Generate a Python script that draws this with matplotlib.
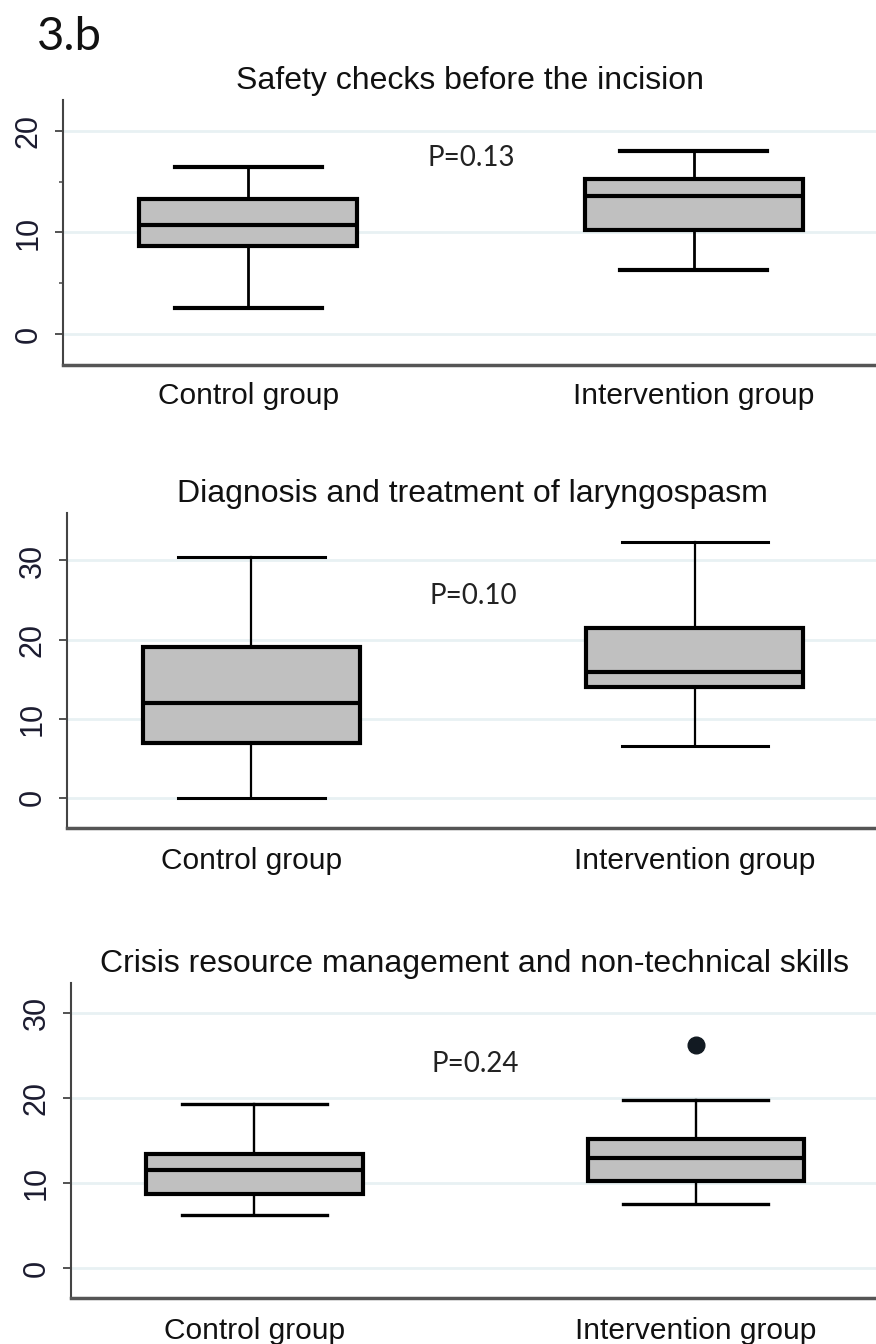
import matplotlib
matplotlib.use("Agg")
import matplotlib.pyplot as plt

# valores (control, intervencion)
groups = ["Control group", "Intervention group"]
titles = [
    "Safety checks before the incision",
    "Diagnosis and treatment of laryngospasm",
    "Crisis resource management and non-technical skills",
]
p_labels = ["P=0.13", "P=0.10", "P=0.24"]

# panel 1
safety_low = [2.6, 6.3]
safety_q1 = [8.7, 10.25]
safety_med = [10.75, 13.6]
safety_q3 = [13.25, 15.2]
safety_high = [16.4, 18.0]
safety_out = [[], []]

# panel 2
laryngo_low = [0.0, 6.5]
laryngo_q1 = [6.9, 14.0]
laryngo_med = [12.0, 15.95]
laryngo_q3 = [19.1, 21.5]
laryngo_high = [30.5, 32.3]
laryngo_out = [[], []]

# panel 3
crisis_low = [6.25, 7.5]
crisis_q1 = [8.7, 10.2]
crisis_med = [11.55, 13.0]
crisis_q3 = [13.4, 15.2]
crisis_high = [19.25, 19.75]
crisis_out = [[], [26.2]]

yticks_list = [[0, 10, 20], [0, 10, 20, 30], [0, 10, 20, 30]]
ylims = [(-3.0, 23.0), (-3.8, 36.0), (-3.5, 33.5)]


def make_stats(low, q1, med, q3, high, out):
    stats = []
    for i in range(len(groups)):
        stats.append(dict(whislo=low[i], q1=q1[i], med=med[i], q3=q3[i],
                          whishi=high[i], fliers=out[i], label=groups[i]))
    return stats


panels = [
    make_stats(safety_low, safety_q1, safety_med, safety_q3, safety_high, safety_out),
    make_stats(laryngo_low, laryngo_q1, laryngo_med, laryngo_q3, laryngo_high, laryngo_out),
    make_stats(crisis_low, crisis_q1, crisis_med, crisis_q3, crisis_high, crisis_out),
]

# posicion de cada eje en pixeles (izq, abajo, arriba)
ax_boxes = [(63, 365, 100), (67, 828, 513), (71, 1298, 983)]
p_y = [17.3, 25.5, 24.0]
cap_lw = [3.0, 2.2, 2.4]
whisk_lw = [2.0, 1.6, 1.7]

W, H = 876, 1344
fig = plt.figure(figsize=(W / 100, H / 100), dpi=100)
fig.patch.set_facecolor("white")

fig.text(37 / W, 1 - 50 / H, "3.b", fontsize=34, family=["Lato", "DejaVu Sans"],
         color="#111111", ha="left", va="baseline")

for k, stats in enumerate(panels):
    left, bottom, top = ax_boxes[k]
    ax = fig.add_axes([left / W, 1 - bottom / H, 1.002 - left / W, (bottom - top) / H])
    ax.bxp(stats, positions=[1, 2], widths=0.49, capwidths=0.33,
           patch_artist=True, showfliers=True,
           boxprops=dict(facecolor="#c0c0c0", edgecolor="black", linewidth=3.0),
           medianprops=dict(color="black", linewidth=3.0),
           whiskerprops=dict(color="black", linewidth=whisk_lw[k]),
           capprops=dict(color="black", linewidth=cap_lw[k]),
           flierprops=dict(marker="o", markerfacecolor="#121a22",
                           markeredgecolor="#121a22", markersize=12))
    ax.set_xlim(0.584, 2.413)
    ax.set_ylim(*ylims[k])
    ax.set_yticks(yticks_list[k])
    if k == 0:
        ax.set_yticks([5, 15], minor=True)
        ax.tick_params(axis="y", which="minor", length=3, width=1.2, color="#555555")
    ax.grid(axis="y", color="#e8f1f3", linewidth=2)
    ax.set_axisbelow(True)
    for s in ["top", "right"]:
        ax.spines[s].set_visible(False)
    ax.spines["left"].set_color("#444444")
    ax.spines["left"].set_linewidth(1.5)
    ax.spines["bottom"].set_color("#555555")
    ax.spines["bottom"].set_linewidth(2.5)
    ax.tick_params(axis="y", which="major", length=6, width=1.3, color="#444444",
                   labelsize=22, labelcolor="#1c1c30", pad=8)
    ax.tick_params(axis="x", length=0, labelsize=21.5, pad=12 if k == 0 else 14,
                   labelcolor="#111111")
    for lab in ax.get_yticklabels():
        lab.set_rotation(90)
        lab.set_va("center")
        lab.set_family("Liberation Sans")
    for lab in ax.get_xticklabels():
        lab.set_family("Liberation Sans")
    ax.set_title(titles[k], fontsize=23, family="Liberation Sans", color="#111111", pad=8)
    ax.text(1.5, p_y[k], p_labels[k], ha="center", va="center", fontsize=20,
            family=["Lato", "DejaVu Sans"], color="#222222")

fig.savefig("out.png", dpi=100)
